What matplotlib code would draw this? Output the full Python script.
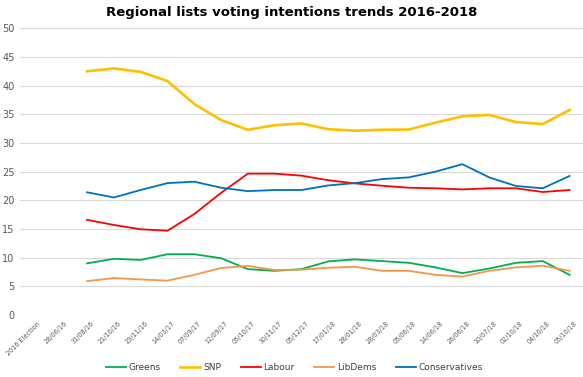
import numpy as np
import matplotlib
matplotlib.use("Agg")
import matplotlib.pyplot as plt
from matplotlib.transforms import ScaledTranslation

categories = ["2016 Election", "28/06/16", "31/08/16", "21/10/16", "29/11/16", "14/03/17",
              "07/09/17", "12/09/17", "05/10/17", "30/11/17", "05/12/17", "17/01/18",
              "28/01/18", "28/03/18", "05/06/18", "14/06/18", "26/06/18", "10/07/18",
              "02/10/18", "04/10/18", "05/10/18"]
nan = np.nan
greens = [nan, nan, 9.0, 9.8, 9.6, 10.6, 10.6, 9.9, 8.0, 7.7, 8.0, 9.35, 9.7, 9.4, 9.1, 8.3, 7.3, 8.1, 9.1, 9.4, 7.0]
snp = [nan, nan, 42.5, 43.0, 42.4, 40.8, 36.8, 34.0, 32.3, 33.1, 33.4, 32.4, 32.15, 32.3, 32.35, 33.55, 34.65, 34.9, 33.65, 33.3, 35.75]
labour = [nan, nan, 16.6, 15.7, 14.95, 14.7, 17.6, 21.3, 24.65, 24.65, 24.3, 23.5, 22.95, 22.55, 22.2, 22.1, 21.9, 22.1, 22.1, 21.45, 21.8]
libdems = [nan, nan, 5.9, 6.45, 6.2, 6.0, 7.0, 8.2, 8.55, 7.85, 7.9, 8.25, 8.4, 7.7, 7.7, 7.0, 6.7, 7.7, 8.3, 8.6, 7.7]
conservatives = [nan, nan, 21.4, 20.5, 21.8, 23.0, 23.25, 22.2, 21.6, 21.8, 21.8, 22.6, 23.0, 23.7, 24.0, 25.0, 26.3, 24.0, 22.5, 22.1, 24.25]

series = [("Greens", greens, "#00B050", 1.3),
          ("SNP", snp, "#FFC000", 1.9),
          ("Labour", labour, "#FF0000", 1.3),
          ("LibDems", libdems, "#F79646", 1.3),
          ("Conservatives", conservatives, "#0070C0", 1.3)]

fig = plt.figure(figsize=(5.83, 3.77), dpi=100)
ax = fig.add_axes([20/583, 62/377, 563/583, (315-28.3)/377])

x = np.arange(len(categories))
for name, vals, col, lw in series:
    ax.plot(x, vals, color=col, lw=lw, label=name, solid_joinstyle="round")

ax.set_xlim(-0.5, len(categories) - 0.5)
ax.set_ylim(0, 50)
ax.set_yticks(np.arange(0, 51, 5))
ax.yaxis.grid(True, color="#D9D9D9", lw=0.8)
ax.set_axisbelow(True)
for s in ax.spines.values():
    s.set_visible(False)
ax.tick_params(axis="both", length=0, colors="#595959")
ax.tick_params(axis="y", labelsize=7, pad=4)
ax.set_xticks(x)
ax.set_xticklabels(categories, rotation=45, ha="right", rotation_mode="anchor", fontsize=4.7)
ax.tick_params(axis="x", pad=4)
offset = ScaledTranslation(4/100, 0, fig.dpi_scale_trans)
for lab in ax.get_xticklabels():
    lab.set_transform(lab.get_transform() + offset)

fig.text(0.5, 0.966, "Regional lists voting intentions trends 2016-2018", ha="center", va="center",
         fontsize=9.5, fontweight="bold", color="#000000")

fig.legend(loc="center", bbox_to_anchor=(0.505, 0.025), ncol=5, frameon=False, fontsize=6.5,
           handlelength=2.2, handletextpad=0.3, columnspacing=2.2, labelcolor="#404040")

fig.savefig("out.png", dpi=100)
